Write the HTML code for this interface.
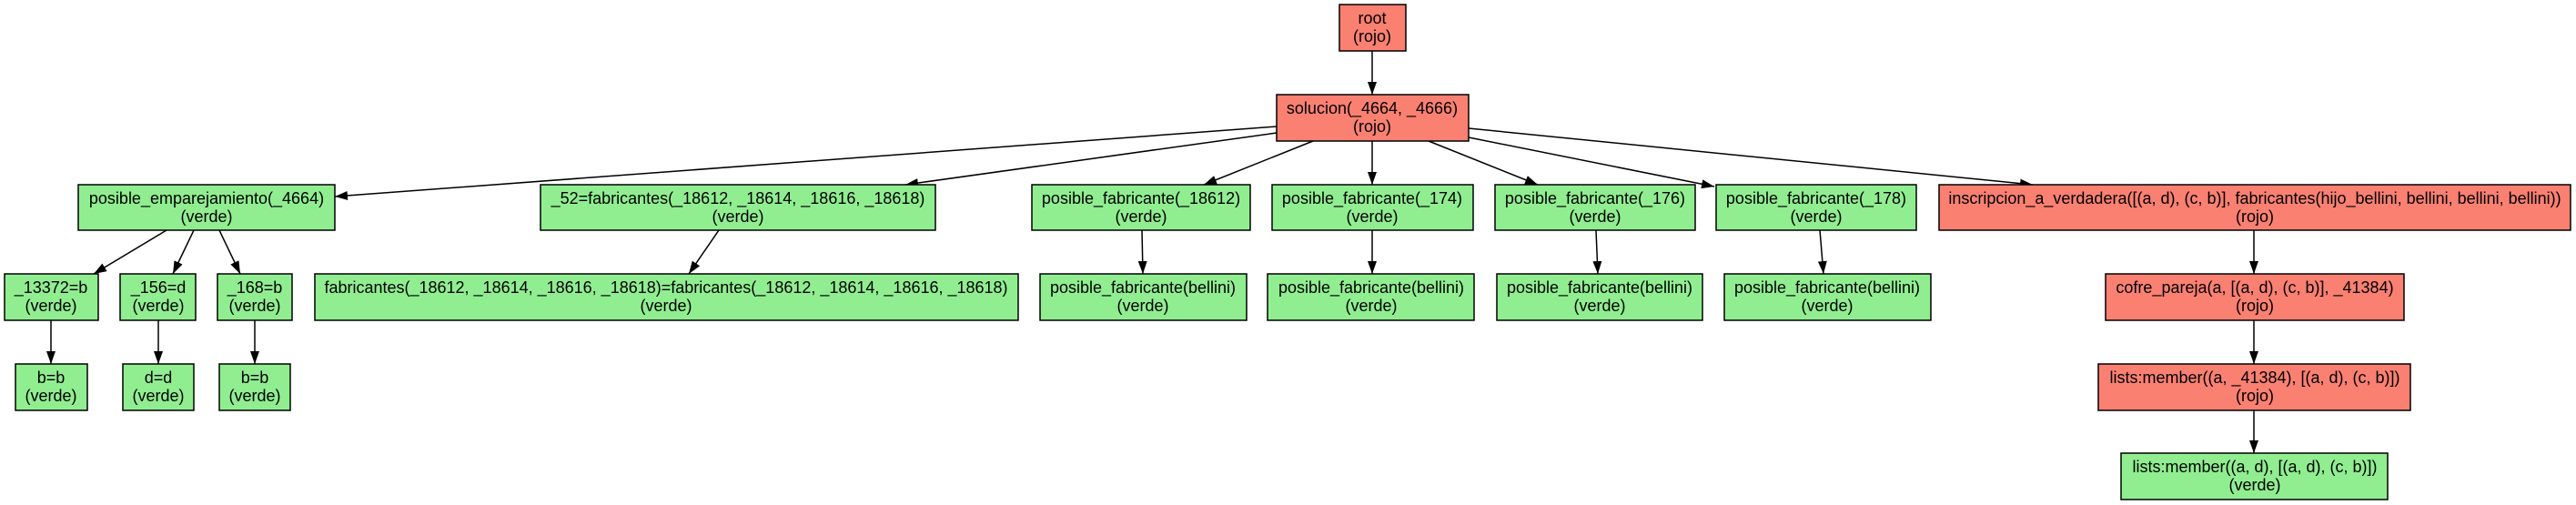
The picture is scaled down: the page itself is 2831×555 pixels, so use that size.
<!DOCTYPE html>
<html><head><meta charset="utf-8"><style>
html,body{margin:0;padding:0;background:#fff;}
svg{display:block;}
text{font-family:"Liberation Sans",Arial,sans-serif;font-size:18px;fill:#000;text-anchor:middle;}
.r{fill:#fa8072;stroke:#000;stroke-width:1.5;}
.g{fill:#90ee90;stroke:#000;stroke-width:1.5;}
line{stroke:#000;stroke-width:1.5;marker-end:url(#a);}
</style></head><body>
<svg width="2831" height="555" viewBox="0 0 2831 555" xmlns="http://www.w3.org/2000/svg">
<defs><marker id="a" markerUnits="userSpaceOnUse" markerWidth="14" markerHeight="10" refX="14" refY="5" orient="auto"><path d="M0,0 L14,5 L0,10 Z" fill="#000"/></marker></defs>
<line x1="1508" y1="56" x2="1508" y2="104"/>
<line x1="1403" y1="139" x2="368" y2="216"/>
<line x1="1403" y1="146" x2="995" y2="203"/>
<line x1="1443" y1="155" x2="1323" y2="203"/>
<line x1="1508" y1="155" x2="1508" y2="203"/>
<line x1="1570" y1="155" x2="1690" y2="203"/>
<line x1="1614" y1="151" x2="1884" y2="205"/>
<line x1="1614" y1="141" x2="2234" y2="203"/>
<line x1="183" y1="253" x2="103" y2="301"/>
<line x1="213" y1="253" x2="190" y2="301"/>
<line x1="241" y1="253" x2="264" y2="301"/>
<line x1="790" y1="253" x2="757" y2="301"/>
<line x1="56" y1="352" x2="56" y2="400"/>
<line x1="174" y1="352" x2="174" y2="400"/>
<line x1="280" y1="352" x2="280" y2="400"/>
<line x1="1255" y1="253" x2="1256" y2="301"/>
<line x1="1508" y1="253" x2="1508" y2="301"/>
<line x1="1754" y1="253" x2="1756" y2="301"/>
<line x1="2000" y1="253" x2="2004" y2="301"/>
<line x1="2477" y1="253" x2="2477" y2="301"/>
<line x1="2477" y1="352" x2="2477" y2="400"/>
<line x1="2477" y1="451" x2="2477" y2="498"/>

<rect class="r" x="1472" y="5" width="73" height="51"/><text x="1508" y="26">root</text><text x="1508" y="46">(rojo)</text>
<rect class="r" x="1403" y="104" width="211" height="51"/><text x="1508" y="125">solucion(_4664, _4666)</text><text x="1508" y="145">(rojo)</text>

<rect class="g" x="86" y="203" width="282" height="50"/><text x="227" y="224">posible_emparejamiento(_4664)</text><text x="227" y="244">(verde)</text>
<rect class="g" x="594" y="203" width="434" height="50"/><text x="811" y="224">_52=fabricantes(_18612, _18614, _18616, _18618)</text><text x="811" y="244">(verde)</text>
<rect class="g" x="1134" y="203" width="240" height="50"/><text x="1254" y="224">posible_fabricante(_18612)</text><text x="1254" y="244">(verde)</text>
<rect class="g" x="1398" y="203" width="221" height="50"/><text x="1508" y="224">posible_fabricante(_174)</text><text x="1508" y="244">(verde)</text>
<rect class="g" x="1643" y="203" width="220" height="50"/><text x="1753" y="224">posible_fabricante(_176)</text><text x="1753" y="244">(verde)</text>
<rect class="g" x="1886" y="203" width="220" height="50"/><text x="1996" y="224">posible_fabricante(_178)</text><text x="1996" y="244">(verde)</text>
<rect class="r" x="2131" y="203" width="694" height="50"/><text x="2478" y="224">inscripcion_a_verdadera([(a, d), (c, b)], fabricantes(hijo_bellini, bellini, bellini, bellini))</text><text x="2478" y="244">(rojo)</text>

<rect class="g" x="5" y="301" width="103" height="51"/><text x="56" y="322">_13372=b</text><text x="56" y="342">(verde)</text>
<rect class="g" x="132" y="301" width="83" height="51"/><text x="174" y="322">_156=d</text><text x="174" y="342">(verde)</text>
<rect class="g" x="239" y="301" width="82" height="51"/><text x="280" y="322">_168=b</text><text x="280" y="342">(verde)</text>
<rect class="g" x="346" y="301" width="773" height="51"/><text x="732" y="322">fabricantes(_18612, _18614, _18616, _18618)=fabricantes(_18612, _18614, _18616, _18618)</text><text x="732" y="342">(verde)</text>
<rect class="g" x="1143" y="301" width="227" height="51"/><text x="1256" y="322">posible_fabricante(bellini)</text><text x="1256" y="342">(verde)</text>
<rect class="g" x="1393" y="301" width="227" height="51"/><text x="1507" y="322">posible_fabricante(bellini)</text><text x="1507" y="342">(verde)</text>
<rect class="g" x="1645" y="301" width="226" height="51"/><text x="1758" y="322">posible_fabricante(bellini)</text><text x="1758" y="342">(verde)</text>
<rect class="g" x="1895" y="301" width="227" height="51"/><text x="2008" y="322">posible_fabricante(bellini)</text><text x="2008" y="342">(verde)</text>
<rect class="r" x="2314" y="301" width="328" height="51"/><text x="2478" y="322">cofre_pareja(a, [(a, d), (c, b)], _41384)</text><text x="2478" y="342">(rojo)</text>

<rect class="g" x="17" y="400" width="79" height="51"/><text x="56" y="421">b=b</text><text x="56" y="441">(verde)</text>
<rect class="g" x="135" y="400" width="78" height="51"/><text x="174" y="421">d=d</text><text x="174" y="441">(verde)</text>
<rect class="g" x="241" y="400" width="78" height="51"/><text x="280" y="421">b=b</text><text x="280" y="441">(verde)</text>
<rect class="r" x="2306" y="400" width="343" height="51"/><text x="2478" y="421">lists:member((a, _41384), [(a, d), (c, b)])</text><text x="2478" y="441">(rojo)</text>

<rect class="g" x="2331" y="498" width="293" height="51"/><text x="2478" y="519">lists:member((a, d), [(a, d), (c, b)])</text><text x="2478" y="539">(verde)</text>
</svg>
</body></html>
